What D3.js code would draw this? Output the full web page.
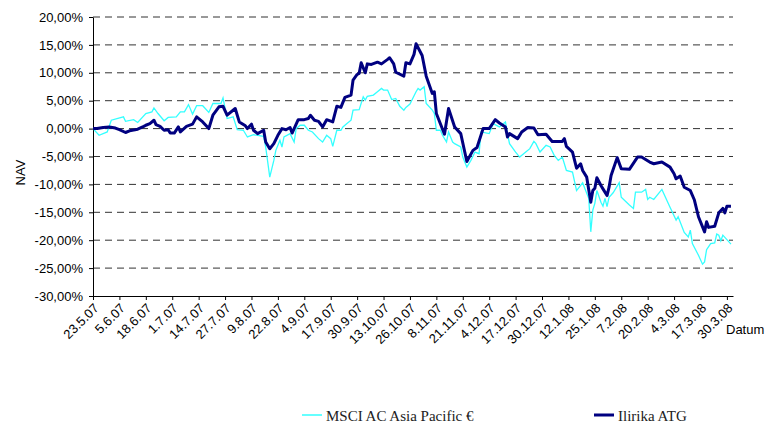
<!DOCTYPE html>
<html>
<head>
<meta charset="utf-8">
<script src="https://cdn.jsdelivr.net/npm/d3@7"></script>
<style>
  body { margin: 0; background: #fff; }
  .axis text { font-family: "Liberation Sans", Arial, sans-serif; fill: #000; }
  .axis path, .axis line { stroke: #000; }
  .legend text { font-family: "Liberation Serif", "Times New Roman", serif; font-size: 15px; fill: #222; }
</style>
</head>
<body>
<svg width="776" height="425"></svg>
<script>

// series names
var seriesNames = ["MSCI AC Asia Pacific €", "Ilirika ATG"];

// days after 23.5.07 and performance in %
var msciDays = [0,3,7,9,15,16,20,22,26,29,30,32,35,37,41,43,45,47,49,51,54,57,59,63,64,66,69,71,74,76,79,81,84,85,87,89,90,92,93,94,97,99,100,102,104,106,108,111,113,115,117,118,120,122,123,125,127,128,131,133,134,135,138,140,142,143,145,147,149,151,153,154,156,159,160,161,163,164,167,168,169,171,172,174,175,177,178,181,182,184,186,188,190,191,195,197,200,203,204,205,208,210,213,215,217,218,220,223,225,227,229,231,233,236,238,241,243,244,245,246,247,248,250,251,252,253,254,256,259,260,264,266,267,270,272,273,274,276,280,284,287,288,291,293,294,295,298,300,301,302,304,306,307,308,309,310,312,314];
var msciValues = [0.0,-1.2,-0.6,1.5,2.1,1.3,1.6,1.1,2.7,3.0,3.7,2.7,1.4,2.0,2.1,3.0,3.0,4.3,2.6,4.1,4.1,2.9,4.5,4.5,5.5,1.8,2.1,-0.2,-0.3,-1.5,-1.1,-1.2,-1.4,-3.3,-8.7,-5.7,-3.9,-2.1,-3.3,-1.5,-0.9,-2.4,0.0,0.6,0.6,-0.3,-0.6,-1.8,-2.4,-1.2,-1.8,-3.2,-0.3,-0.3,0.3,0.9,1.5,3.3,3.4,5.7,5.1,5.8,6.0,6.6,7.2,6.9,6.9,5.2,5.4,4.0,3.3,3.8,4.4,6.6,7.2,6.9,7.5,4.5,3.3,2.7,-0.3,-0.3,-1.2,-2.4,-0.6,-2.4,-2.7,-3.3,-5.1,-6.9,-5.7,-4.2,-4.5,-0.6,-0.9,0.9,0.3,1.2,-0.9,-2.7,-4.2,-5.1,-4.2,-3.6,-2.3,-2.7,-4.2,-3.0,-3.3,-4.8,-5.7,-5.1,-7.5,-7.8,-11.1,-9.7,-11.6,-12.5,-18.5,-14.6,-13.4,-11.1,-13.2,-13.9,-12.5,-14.0,-12.3,-11.5,-9.7,-12.3,-13.7,-14.3,-11.4,-11.4,-10.9,-12.7,-12.3,-12.7,-10.9,-14.1,-16.4,-15.8,-18.6,-19.4,-18.2,-20.6,-22.7,-24.3,-23.9,-21.7,-20.6,-20.5,-18.9,-19.1,-20.1,-19.1,-19.9,-20.7];

var atgDays = [0,2,5,8,11,13,16,18,22,25,26,28,30,31,33,35,37,38,40,42,43,46,49,51,54,57,59,62,64,66,70,72,75,76,78,79,81,84,85,87,89,91,93,95,97,98,101,104,106,107,109,111,113,115,118,120,122,124,127,128,130,131,132,134,135,137,140,142,145,146,148,149,153,154,156,158,159,162,164,167,168,169,173,175,178,181,184,187,189,192,195,198,200,203,204,205,209,211,214,217,219,223,226,231,232,233,236,238,240,241,243,245,246,247,248,250,251,253,254,255,258,260,264,268,270,274,276,280,284,286,287,289,291,294,296,298,301,302,303,306,308,310,311,312,314];
var atgValues = [0.0,0.0,0.2,0.3,0.1,-0.2,-0.7,-0.4,-0.1,0.4,0.6,0.9,1.5,0.7,0.4,-0.3,-0.2,-0.8,-0.8,0.3,-0.6,0.4,0.8,2.1,1.2,0.0,2.4,3.9,4.0,2.4,3.6,1.2,0.5,0.0,0.8,-0.3,-0.9,-0.3,-2.4,-3.6,-2.7,-1.2,0.0,-0.2,0.2,-0.8,1.6,1.6,1.8,2.4,1.5,1.3,0.3,1.6,1.2,4.0,3.8,5.6,6.0,8.7,9.7,9.9,11.8,10.0,11.6,11.5,11.9,11.6,12.4,12.7,11.6,10.1,9.4,11.8,11.6,13.3,15.2,13.1,9.4,6.3,6.6,2.7,-1.0,3.6,0.3,-0.9,-5.9,-3.9,-3.4,0.0,0.0,1.6,1.0,0.3,-1.5,-0.9,-1.8,-0.6,0.2,0.1,-1.1,-1.0,-2.3,-2.3,-1.8,-3.2,-4.2,-7.1,-6.3,-7.5,-8.7,-13.2,-11.1,-10.7,-8.8,-10.2,-10.8,-12.0,-10.5,-8.4,-5.2,-7.2,-7.3,-5.1,-5.1,-6.0,-6.3,-6.0,-6.9,-8.1,-9.0,-8.5,-10.5,-11.1,-12.8,-15.8,-18.5,-16.7,-17.7,-17.5,-15.1,-14.3,-15.1,-13.9,-13.9];

var xTickLabels = ["23.5.07","5.6.07","18.6.07","1.7.07","14.7.07","27.7.07","9.8.07","22.8.07","4.9.07","17.9.07","30.9.07","13.10.07","26.10.07","8.11.07","21.11.07","4.12.07","17.12.07","30.12.07","12.1.08","25.1.08","7.2.08","20.2.08","4.3.08","17.3.08","30.3.08"];
var yTicks = [20,15,10,5,0,-5,-10,-15,-20,-25,-30];

var svg = d3.select("svg"),
    margin = {top: 17, right: 43, bottom: 129, left: 93},
    width = +svg.attr("width") - margin.left - margin.right,
    height = +svg.attr("height") - margin.top - margin.bottom;

var parseTick = d3.timeParse("%d.%m.%y");
var tickDates = xTickLabels.map(parseTick);
var start = tickDates[0];

function toPoints(days, values){
  return days.map(function(d, i) { return {date: d3.timeDay.offset(start, d), value: values[i]}; });
}

var msci = toPoints(msciDays, msciValues),
    atg = toPoints(atgDays, atgValues);

var x = d3.scaleTime()
    .domain([start, d3.timeDay.offset(start, 315)])
    .range([0, width]);

var y = d3.scaleLinear().domain([-30, 20]).range([height, 0]);

var g = svg.append("g")
    .attr("transform", "translate(" + margin.left + "," + margin.top + ")");

// dashed gridlines
g.selectAll(".grid")
  .data(yTicks.filter(function(v) { return v > -30; }))
  .enter().append("line")
    .attr("class", "grid")
    .attr("x1", 0)
    .attr("x2", width)
    .attr("y1", function(d) { return y(d); })
    .attr("y2", function(d) { return y(d); })
    .style("stroke", "#333")
    .style("stroke-width", 1)
    .style("stroke-dasharray", "7,5");

var yAxis = g.append("g")
    .attr("class", "axis axis--y")
    .call(d3.axisLeft(y).tickValues(yTicks).tickSize(4).tickSizeOuter(0).tickPadding(6)
      .tickFormat(function(d) { return d.toFixed(2).replace(".", ",") + "%"; }));
yAxis.selectAll("text").style("font-size", "13px");

var xAxis = g.append("g")
    .attr("class", "axis axis--x")
    .attr("transform", "translate(0," + height + ")")
    .call(d3.axisBottom(x).tickValues(tickDates).tickSize(4).tickSizeOuter(0)
      .tickFormat(function(d, i) { return xTickLabels[i]; }));
xAxis.selectAll("text")
    .style("font-size", "13px")
    .attr("text-anchor", "end")
    .attr("x", 0)
    .attr("y", 0)
    .attr("dy", 0)
    .attr("transform", "translate(6,13) rotate(-45)");

g.append("text")
    .attr("transform", "translate(" + (-68) + "," + (height / 2 + 16) + ") rotate(-90)")
    .attr("text-anchor", "middle")
    .style("font-family", "Liberation Sans, Arial, sans-serif")
    .style("font-size", "13px")
    .text("NAV");

g.append("text")
    .attr("x", width - 7)
    .attr("y", height + 38)
    .style("font-family", "Liberation Sans, Arial, sans-serif")
    .style("font-size", "13px")
    .text("Datum");

var line = d3.line()
    .x(function(d) { return x(d.date); })
    .y(function(d) { return y(d.value); });

g.append("path")
    .datum(msci)
    .attr("fill", "none")
    .attr("stroke", "#33ffff")
    .attr("stroke-width", 1.3)
    .attr("d", line);

g.append("path")
    .datum(atg)
    .attr("fill", "none")
    .attr("stroke", "#000080")
    .attr("stroke-width", 3)
    .attr("stroke-linejoin", "round")
    .attr("d", line);

// legend
var legend = svg.append("g").attr("class", "legend");
var legendItems = [
  {name: seriesNames[0], color: "#33ffff", w: 1.5, x: 302},
  {name: seriesNames[1], color: "#000080", w: 3, x: 594}
];
legendItems.forEach(function(it){
  legend.append("line")
    .attr("x1", it.x).attr("x2", it.x + 20)
    .attr("y1", 415).attr("y2", 415)
    .style("stroke", it.color)
    .style("stroke-width", it.w);
  legend.append("text")
    .attr("x", it.x + 24)
    .attr("y", 421)
    .text(it.name);
});

</script>
</body>
</html>
